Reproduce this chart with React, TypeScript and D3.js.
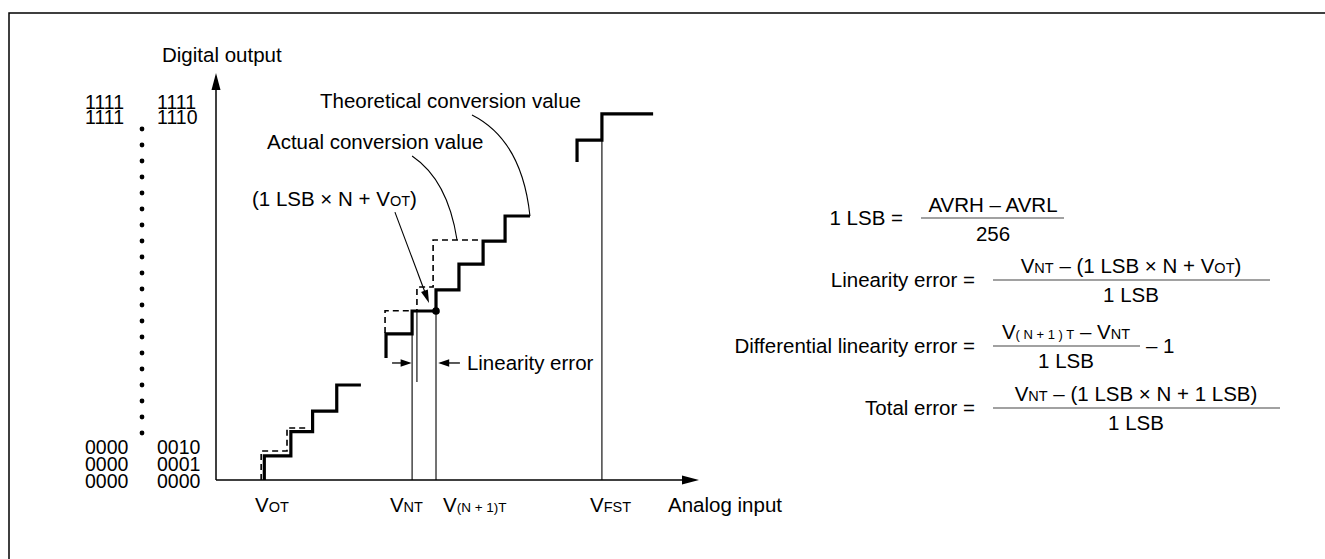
import React from "react";
import * as d3 from "d3";

// ---------- data (in input units / code units) ----------
const actualLow: [number, number][] = [[2, 0], [2, 1], [3.1, 1], [3.1, 2], [4, 2], [4, 2.85], [5, 2.85], [5, 3.93], [6, 3.93]];
const theoLow: [number, number][] = [[1.87, 0], [1.87, 1.2], [2.94, 1.2], [2.94, 2.15], [3.8, 2.15]];
const actualMid: [number, number][] = [[7.04, 5.05], [7.04, 6.04], [8.12, 6.04], [8.12, 6.99], [9.11, 6.99], [9.11, 7.86], [10.06, 7.86], [10.06, 8.93], [11.06, 8.93], [11.06, 9.88], [11.97, 9.88], [11.97, 10.92], [13.0, 10.92]];
const theoMid: [number, number][] = [[7.0, 6.08], [7.0, 7.0], [8.32, 7.0], [8.32, 7.98], [8.99, 7.98], [8.99, 9.93], [11.0, 9.93]];
const actualHigh: [number, number][] = [[14.95, 13.15], [14.95, 14.06], [15.98, 14.06], [15.98, 15.14], [18.1, 15.14]];
const guides = [
  { x: 8.12, top: 6.99, bottom: 0 },
  { x: 8.32, top: 7.0, bottom: 4.05 },
  { x: 9.11, top: 6.99, bottom: 0 },
  { x: 15.98, top: 14.06, bottom: 0 },
];
const codeTop = [["1111", "1111"], ["1111", "1110"]];
const codeBottom = [["0000", "0010"], ["0000", "0001"], ["0000", "0000"]];
const xLabels = [
  { x: 1.62, main: "V", sub: "OT" },
  { x: 7.2, main: "V", sub: "NT" },
  { x: 9.4, main: "V", sub: "(N + 1)T" },
  { x: 15.49, main: "V", sub: "FST" },
];
const dotCount = 20;

// ---------- scales ----------
const x = d3.scaleLinear().domain([0, 20]).range([216, 699]);
const y = d3.scaleLinear().domain([0, 17]).range([480, 69]);
const line = d3.line<[number, number]>().x((d) => x(d[0])).y((d) => y(d[1]));

const FONT = "'Liberation Sans', Arial, Helvetica, sans-serif";
const FS = 20.5;
const SUB = 14.5;
const CODE_FS = 19.5;

function arrowHead(tx: number, ty: number, fx: number, fy: number, len = 13, hw = 3.8) {
  const a = Math.atan2(ty - fy, tx - fx);
  const bx = tx - len * Math.cos(a);
  const by = ty - len * Math.sin(a);
  const px = -Math.sin(a) * hw;
  const py = Math.cos(a) * hw;
  return `M${tx},${ty}L${bx + px},${by + py}L${bx - px},${by - py}Z`;
}

function quad(p0: [number, number], c: [number, number], p1: [number, number]) {
  const p = d3.path();
  p.moveTo(x(p0[0]), y(p0[1]));
  p.quadraticCurveTo(x(c[0]), y(c[1]), x(p1[0]), y(p1[1]));
  return p.toString();
}

const Sub = ({ t, size = SUB }: { t: string; size?: number }) => <tspan fontSize={size}>{t}</tspan>;

export default function App() {
  const dots = d3.range(dotCount).map((i) => 129 + (i * (433 - 129)) / (dotCount - 1));
  const pointerFrom: [number, number] = [x(7.41), y(11.08)];
  const pointerTo: [number, number] = [x(8.82), y(7.32)];
  const le = y(4.84);
  return (
    <svg width={1325} height={559} style={{ position: "absolute", left: 0, top: 0, background: "#fff" }} fontFamily={FONT}>
      <rect width={1325} height={559} fill="#fff" />
      <path d="M9,559V13H1325" fill="none" stroke="#000" strokeWidth={1.5} />

      {/* axes */}
      <line x1={x(0)} y1={y(0)} x2={x(0)} y2={y(16.2)} stroke="#000" strokeWidth={1.5} />
      <path d={arrowHead(x(0), y(16.83), x(0), y(0), 17, 4.5)} fill="#000" />
      <line x1={x(0)} y1={y(0)} x2={x(19.4)} y2={y(0)} stroke="#000" strokeWidth={1.5} />
      <path d={arrowHead(x(20), y(0), x(0), y(0), 17, 4.5)} fill="#000" />

      {/* guides */}
      {guides.map((g, i) => (
        <line key={i} x1={x(g.x)} x2={x(g.x)} y1={y(g.top)} y2={y(g.bottom)} stroke="#000" strokeWidth={1.1} />
      ))}

      {/* theoretical (dashed) */}
      {[theoLow, theoMid].map((d, i) => (
        <path key={i} d={line(d) || ""} fill="none" stroke="#000" strokeWidth={1.6} strokeDasharray="6 4" />
      ))}
      {/* actual (solid) */}
      {[actualLow, actualMid, actualHigh].map((d, i) => (
        <path key={i} d={line(d) || ""} fill="none" stroke="#000" strokeWidth={3.2} strokeLinejoin="miter" />
      ))}
      <circle cx={x(9.11)} cy={y(6.99)} r={3.8} fill="#000" />

      {/* pointer for (1 LSB x N + VOT) */}
      <line x1={pointerFrom[0]} y1={pointerFrom[1]} x2={pointerTo[0] - 3} y2={pointerTo[1] - 8} stroke="#000" strokeWidth={1.1} />
      <path d={arrowHead(pointerTo[0], pointerTo[1], pointerFrom[0], pointerFrom[1], 13, 3.6)} fill="#000" />

      {/* linearity error arrows */}
      <line x1={x(7.29)} x2={x(8.0)} y1={le} y2={le} stroke="#000" strokeWidth={1.3} />
      <path d={arrowHead(x(8.1), le, x(7.29), le, 11, 3.8)} fill="#000" />
      <line x1={x(10.1)} x2={x(9.3)} y1={le} y2={le} stroke="#000" strokeWidth={1.3} />
      <path d={arrowHead(x(9.2), le, x(10.1), le, 11, 3.8)} fill="#000" />
      <text x={x(10.39)} y={le + 7} fontSize={FS}>Linearity error</text>

      {/* leader curves */}
      <path d={quad([8.12, 13.4], [9.6, 12.4], [9.98, 9.93])} fill="none" stroke="#000" strokeWidth={1.1} />
      <path d={quad([10.6, 15.1], [12.67, 14.06], [13.0, 10.92])} fill="none" stroke="#000" strokeWidth={1.1} />

      {/* chart labels */}
      <text x={162} y={62} fontSize={FS}>Digital output</text>
      <text x={320} y={108} fontSize={FS}>Theoretical conversion value</text>
      <text x={267} y={149} fontSize={FS}>Actual conversion value</text>
      <text x={252} y={206} fontSize={FS}>(1 LSB × N + V<Sub t="OT" />)</text>

      {/* code labels */}
      {codeTop.map((r, i) => (
        <g key={"t" + i}>
          <text x={85} y={109 + i * 15} fontSize={CODE_FS}>{r[0]}</text>
          <text x={157} y={109 + i * 15} fontSize={CODE_FS}>{r[1]}</text>
        </g>
      ))}
      {codeBottom.map((r, i) => (
        <g key={"b" + i}>
          <text x={85} y={454 + i * 17} fontSize={CODE_FS}>{r[0]}</text>
          <text x={157} y={454 + i * 17} fontSize={CODE_FS}>{r[1]}</text>
        </g>
      ))}
      {dots.map((dy, i) => (
        <circle key={i} cx={142} cy={dy} r={2.4} fill="#000" />
      ))}

      {/* x labels */}
      {xLabels.map((l, i) => (
        <text key={i} x={x(l.x)} y={512} fontSize={FS}>
          {l.main}
          <Sub t={l.sub} size={l.sub.length > 4 ? 13.5 : SUB} />
        </text>
      ))}
      <text x={668} y={512} fontSize={FS}>Analog input</text>

      {/* formulas */}
      <g fontSize={FS}>
        <text x={903} y={225} textAnchor="end">1 LSB =</text>
        <line x1={921} x2={1064} y1={218} y2={218} stroke="#444" strokeWidth={1.2} />
        <text x={993} y={212} textAnchor="middle">AVRH – AVRL</text>
        <text x={993} y={241} textAnchor="middle">256</text>

        <text x={975} y={287} textAnchor="end">Linearity error =</text>
        <line x1={993} x2={1270} y1={280} y2={280} stroke="#444" strokeWidth={1.2} />
        <text x={1131} y={273} textAnchor="middle">V<Sub t="NT" /> – (1 LSB × N + V<Sub t="OT" />)</text>
        <text x={1131} y={302} textAnchor="middle">1 LSB</text>

        <text x={975} y={353} textAnchor="end">Differential linearity error =</text>
        <line x1={993} x2={1140} y1={346} y2={346} stroke="#444" strokeWidth={1.2} />
        <text x={1066} y={339} textAnchor="middle">V<Sub t="( N + 1 ) T" size={13} /> – V<Sub t="NT" /></text>
        <text x={1066} y={368} textAnchor="middle">1 LSB</text>
        <text x={1146} y={353}>– 1</text>

        <text x={975} y={415} textAnchor="end">Total error =</text>
        <line x1={993} x2={1280} y1={408} y2={408} stroke="#444" strokeWidth={1.2} />
        <text x={1136} y={401} textAnchor="middle">V<Sub t="NT" /> – (1 LSB × N + 1 LSB)</text>
        <text x={1136} y={430} textAnchor="middle">1 LSB</text>
      </g>
    </svg>
  );
}
